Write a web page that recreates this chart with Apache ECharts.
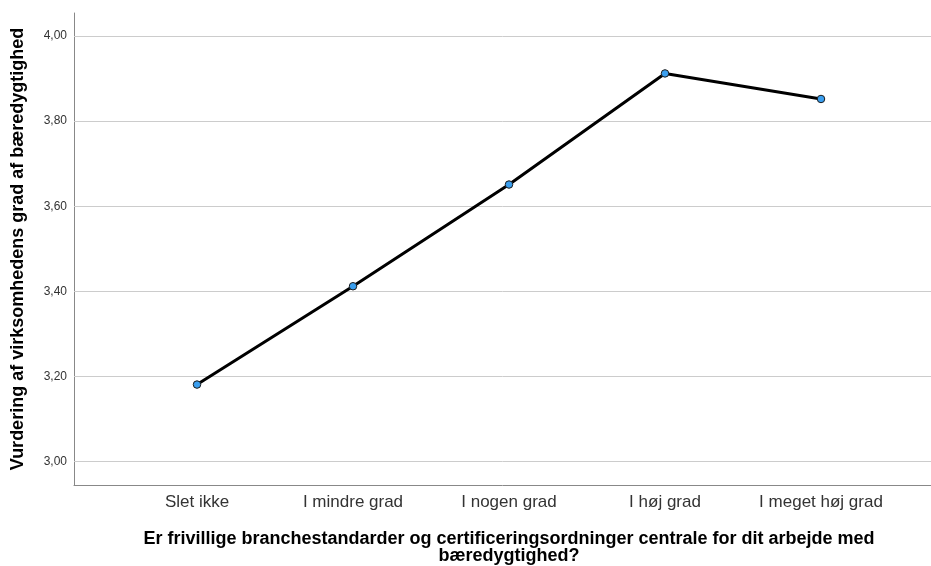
<!DOCTYPE html>
<html>
<head>
<meta charset="utf-8">
<script src="https://cdn.jsdelivr.net/npm/echarts@6/dist/echarts.min.js"></script>
<style>
  html, body { margin: 0; padding: 0; background: #fff; }
  #chart { width: 931px; height: 566px; }
</style>
</head>
<body>
<div id="chart"></div>
<script>
// Categories and mean ratings
const categories = ['Slet ikke', 'I mindre grad', 'I nogen grad', 'I høj grad', 'I meget høj grad'];
const meanValues = [3.181, 3.412, 3.651, 3.912, 3.852];
const yTicks = [3.0, 3.2, 3.4, 3.6, 3.8, 4.0];

const yMin = 2.945, yMax = 4.054;
const font = 'Liberation Sans, Arial, sans-serif';

const chart = echarts.init(document.getElementById('chart'), null, { renderer: 'canvas' });

chart.setOption({
  animation: false,
  backgroundColor: '#ffffff',
  grid: [
    // frame grid: axis lines + horizontal gridlines
    { left: 74, right: 0, top: 13, bottom: 81, containLabel: false, outerBoundsMode: 'none' },
    // data grid: category band aligned with markers
    { left: 119, width: 780, top: 13, bottom: 81, containLabel: false, outerBoundsMode: 'none' }
  ],
  xAxis: [
    {
      gridIndex: 0, type: 'value', min: 0, max: 1,
      axisLine: { show: true, lineStyle: { color: '#888888', width: 1 } },
      axisTick: { show: false }, axisLabel: { show: false }, splitLine: { show: false }
    },
    {
      gridIndex: 1, type: 'category', data: categories, boundaryGap: true,
      axisLine: { show: false }, axisTick: { show: false }, splitLine: { show: false },
      axisLabel: { interval: 0, color: '#333333', fontFamily: font, fontSize: 17, margin: 9 },
      name: 'Er frivillige branchestandarder og certificeringsordninger centrale for dit arbejde med\nbæredygtighed?',
      nameLocation: 'middle', nameGap: 46,
      nameTextStyle: { color: '#000000', fontFamily: font, fontSize: 18, fontWeight: 'bold', lineHeight: 17 }
    }
  ],
  yAxis: [
    {
      gridIndex: 0, type: 'value', min: yMin, max: yMax,
      axisLine: { show: true, lineStyle: { color: '#888888', width: 1 } },
      axisTick: { show: false }, axisLabel: { show: false }, splitLine: { show: false },
      name: 'Vurdering af virksomhedens grad af bæredygtighed',
      nameLocation: 'middle', nameGap: 47,
      nameTextStyle: { color: '#000000', fontFamily: font, fontSize: 18, fontWeight: 'bold' }
    },
    {
      gridIndex: 1, type: 'value', min: yMin, max: yMax, show: false
    }
  ],
  series: [
    {
      // horizontal reference lines at each tick value, spanning the full frame
      type: 'line', xAxisIndex: 0, yAxisIndex: 0, data: [], silent: true,
      markLine: {
        symbol: 'none', silent: true,
        label: { show: true, position: 'start', formatter: p => p.value.toFixed(2).replace('.', ','),
                 color: '#333333', fontFamily: font, fontSize: 12, distance: 7 },
        lineStyle: { color: '#cccccc', width: 1, type: 'solid' },
        data: yTicks.map(v => ({ yAxis: v }))
      }
    },
    {
      type: 'line', xAxisIndex: 1, yAxisIndex: 1,
      data: meanValues,
      symbol: 'circle', symbolSize: 7.5,
      lineStyle: { color: '#000000', width: 3 },
      itemStyle: { color: '#3a9ff0', borderColor: '#1a1a1a', borderWidth: 1 },
      z: 5
    }
  ]
});
</script>
</body>
</html>
